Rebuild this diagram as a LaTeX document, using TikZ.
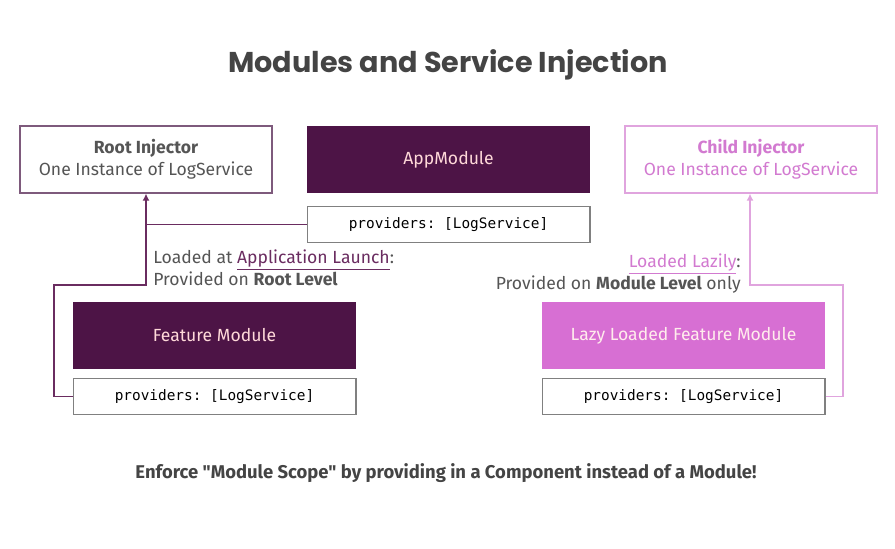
\documentclass[tikz,border=0pt]{standalone}
\usepackage{fontspec}
\setmainfont{Fira Sans}[Ligatures=TeXOff]
\setsansfont{Fira Sans}[Ligatures=TeXOff]
\setmonofont{DejaVu Sans Mono}
\newfontfamily\titlefont{Poppins}
\usepackage{xcolor}
\usetikzlibrary{positioning, arrows.meta}

\definecolor{darkplum}{HTML}{4D1446}
\definecolor{lazypink}{HTML}{D76FD3}
\definecolor{childpink}{HTML}{D27AD0}
\definecolor{childline}{HTML}{E0A4DE}
\definecolor{rootline}{HTML}{7E5A7C}
\definecolor{plumline}{HTML}{6A2C60}
\definecolor{textgray}{HTML}{555555}
\definecolor{headgray}{HTML}{444444}

\begin{document}
\begin{tikzpicture}[
    x=0.02cm, y=-0.02cm,
    every node/.style={align=center, font=\fontsize{10}{12.5}\selectfont, inner sep=0pt},
    injector/.style={draw=rootline, line width=0.7pt, minimum width=5.04cm, minimum height=1.34cm, text=textgray},
    module/.style={fill=darkplum, minimum width=5.66cm, minimum height=1.34cm, text=pink!60!white},
    lazymodule/.style={module, fill=lazypink, text=pink!30!white},
    providers/.style={draw=gray, line width=0.6pt, fill=white, minimum width=5.66cm, minimum height=0.72cm, font=\ttfamily\fontsize{8.2}{10}\selectfont, text=black},
    conn/.style={draw=plumline, line width=0.9pt},
    lazyconn/.style={draw=childline, line width=0.9pt},
    tip/.style={-{Latex[length=4pt,width=4pt]}},
    note/.style={text=textgray, align=left}
]
\useasboundingbox (0,0) rectangle (895,548);

% title
\node[font=\titlefont\bfseries\fontsize{16.3}{20}\selectfont, text=headgray] (title) at (448,65) {Modules and Service Injection};

% top row
\node[injector] (root) at (146,159.5) {\textbf{Root Injector}\\One Instance of LogService};
\node[module] (app) at (448.5,159.5) {AppModule};
\node[providers] (appprov) at (448.5,224.5) {providers: [LogService]};
\node[injector, draw=childline, text=childpink] (child) at (751,159.5) {\textbf{Child Injector}\\One Instance of LogService};

% feature modules
\node[module] (feature) at (214.5,335.5) {Feature Module};
\node[providers] (featprov) at (214.5,396.5) {providers: [LogService]};
\node[lazymodule] (lazy) at (683.5,335.5) {Lazy Loaded Feature Module};
\node[providers] (lazyprov) at (683.5,396.5) {providers: [LogService]};

% notes
\node[note, anchor=north west] (rootnote) at (153,249) {Loaded at {\color{plumline}\underline{Application Launch}}:\\Provided on \textbf{Root Level}};
\node[note, anchor=north east, align=right] (lazynote) at (741,253) {{\color{childpink}\underline{Loaded Lazily}}:\\Provided on \textbf{Module Level} only};

% connectors
\coordinate (featcorner) at (54,396.5);
\coordinate (featbend) at (54,285);
\coordinate (rootbend) at (146,285);
\draw[conn, tip] (featprov.west) -- (featcorner) -- (featbend) -- (rootbend) -- (root.south);
\draw[conn] (appprov.west) -- (appprov.west -| root.south);

\coordinate (lazycorner) at (843,396.5);
\coordinate (lazybend) at (843,285);
\coordinate (childbend) at (750,285);
\draw[lazyconn, tip] (lazyprov.east) -- (lazycorner) -- (lazybend) -- (childbend) -- (child.south -| childbend);

% footer
\node[font=\bfseries\fontsize{10.5}{12}\selectfont, text=headgray] (footer) at (446,473) {Enforce "Module Scope" by providing in a Component instead of a Module!};
\end{tikzpicture}
\end{document}
